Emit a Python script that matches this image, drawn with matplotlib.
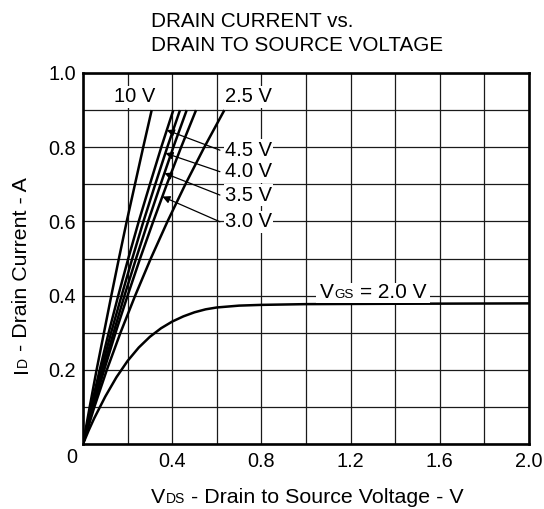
import matplotlib
matplotlib.use('Agg')
import matplotlib.pyplot as plt
import numpy as np
from matplotlib.patches import Rectangle
from matplotlib.transforms import IdentityTransform

plt.rcParams['font.family'] = ['Liberation Sans', 'DejaVu Sans']

# ---------------- data ----------------
# Linear-region curves: drain current points and V_DS for each V_GS
id_pts = [0.0, 0.1, 0.2, 0.3, 0.4, 0.5, 0.6, 0.7, 0.8, 0.9]
vds_10v = [0.0, 0.030, 0.061, 0.094, 0.127, 0.161, 0.196, 0.233, 0.270, 0.308]
vds_45v = [0.0, 0.036, 0.075, 0.115, 0.158, 0.203, 0.250, 0.300, 0.351, 0.405]
vds_40v = [0.0, 0.040, 0.082, 0.126, 0.173, 0.221, 0.271, 0.324, 0.378, 0.435]
vds_35v = [0.0, 0.044, 0.089, 0.137, 0.186, 0.238, 0.292, 0.348, 0.405, 0.465]
vds_30v = [0.0, 0.046, 0.095, 0.146, 0.200, 0.256, 0.315, 0.376, 0.440, 0.507]
vds_25v = [0.0, 0.051, 0.107, 0.168, 0.234, 0.304, 0.379, 0.459, 0.544, 0.634]

# V_GS = 2.0 V curve (saturating)
vds_20v = [0.0, 0.025, 0.05, 0.10, 0.15, 0.20, 0.25, 0.30, 0.35, 0.40, 0.45,
           0.50, 0.55, 0.60, 0.70, 0.80, 1.00, 1.40, 2.00]
id_20v = [0.0, 0.036, 0.069, 0.128, 0.180, 0.224, 0.260, 0.289, 0.312, 0.330, 0.344,
          0.355, 0.363, 0.368, 0.373, 0.375, 0.377, 0.378, 0.379]

# labels with arrows
arrow_labels = ['4.5 V', '4.0 V', '3.5 V', '3.0 V']
arrow_label_y = [0.792, 0.734, 0.671, 0.599]
arrow_tip_id = [0.846, 0.784, 0.730, 0.667]

x_grid = [0.0, 0.2, 0.4, 0.6, 0.8, 1.0, 1.2, 1.4, 1.6, 1.8, 2.0]
x_ticklabels = ['', '', '0.4', '', '0.8', '', '1.2', '', '1.6', '', '2.0']
y_grid = [0.0, 0.1, 0.2, 0.3, 0.4, 0.5, 0.6, 0.7, 0.8, 0.9, 1.0]
y_ticklabels = ['', '', '0.2', '', '0.4', '', '0.6', '', '0.8', '', '1.0']

title_lines = ['DRAIN CURRENT vs.', 'DRAIN TO SOURCE VOLTAGE']

# ---------------- figure ----------------
W, H = 544, 509
fig = plt.figure(figsize=(W / 100, H / 100), dpi=100)
L, R, T, B = 83, 529, 73, 444
ax = fig.add_axes([L / W, (H - B) / H, (R - L) / W, (B - T) / H])
renderer = fig.canvas.get_renderer()

FS = 14.3      # tick labels
FC = 14.5      # curve labels
FA = 15.4      # axis labels
SUB = 10

ax.set_xlim(0, 2.0)
ax.set_ylim(0, 1.0)
ax.set_xticks(x_grid, x_ticklabels)
ax.set_yticks(y_grid, y_ticklabels)
ax.tick_params(length=0, labelsize=FS, colors='black')
ax.tick_params(axis='x', pad=6)
ax.tick_params(axis='y', pad=5)
ax.grid(True, color='#1a1a1a', lw=0.9)
ax.set_axisbelow(True)
for s in ax.spines.values():
    s.set_linewidth(1.9)
    s.set_color('black')

lw = 1.8
for v in [vds_10v, vds_45v, vds_40v, vds_35v, vds_30v, vds_25v]:
    ax.plot(v, id_pts, color='black', lw=lw, zorder=3, solid_capstyle='butt')
ax.plot(vds_20v, id_20v, color='black', lw=lw, zorder=3)

# "0" corner label
ax.text(-0.025, -0.012, '0', fontsize=FS, ha='center', va='top',
        transform=ax.transAxes, clip_on=False)

wb = dict(facecolor='white', edgecolor='none', pad=1.0)
ax.text(0.233, 0.936, '10 V', fontsize=FC, ha='center', va='center', bbox=wb, zorder=4)
ax.text(0.744, 0.936, '2.5 V', fontsize=FC, ha='center', va='center', bbox=wb, zorder=4)

curves = [vds_45v, vds_40v, vds_35v, vds_30v]
for lab, ly, tip, cv in zip(arrow_labels, arrow_label_y, arrow_tip_id, curves):
    ax.text(0.637, ly, lab, fontsize=FC, ha='left', va='center', bbox=wb, zorder=4)
    tx = np.interp(tip, id_pts, cv)
    ax.annotate('', xy=(tx, tip), xytext=(0.614, ly),
                arrowprops=dict(arrowstyle='-|>', lw=0.9, color='black',
                                mutation_scale=11, shrinkA=0, shrinkB=0),
                zorder=4)


def twidth(s, size):
    t = fig.text(0, 0, s, fontsize=size)
    w = t.get_window_extent(renderer).width
    t.remove()
    return w


def place(x0, y0, pieces, rotation=0, host=None, zorder=5):
    """pieces: list of (text, size, gap_after_px); x0,y0 baseline start in display px"""
    host = host or fig
    objs = []
    pos = 0.0
    for s, size, gap in pieces:
        if rotation == 0:
            t = host.text(x0 + pos, y0, s, fontsize=size, ha='left', va='baseline',
                          transform=IdentityTransform(), zorder=zorder, clip_on=False)
        else:
            t = host.text(x0, y0 + pos, s, fontsize=size, ha='left', va='baseline',
                          rotation=90, rotation_mode='anchor',
                          transform=IdentityTransform(), zorder=zorder, clip_on=False)
        objs.append(t)
        pos += twidth(s, size) + gap
    return objs, pos


def space(size):
    return 0.278 * size * 100 / 72


# x label, centered
xl = [('V', FA, 0.5), ('DS', SUB, space(FA)), ('- Drain to Source Voltage - V', FA, 0)]
tot = sum(twidth(s, z) + g for s, z, g in xl)
place(307 - tot / 2, H - 503, xl)

# y label, rotated
yl = [('I', FA, 0.5), ('D', SUB, space(FA)), ('- Drain Current - A', FA, 0)]
tot = sum(twidth(s, z) + g for s, z, g in yl)
place(27, (H - 275) - tot / 2, yl, rotation=90)

# V_GS = 2.0 V label with white background
FV = 15.0
gx, gy = ax.transData.transform((1.063, 0.413))
vl = [('V', FV, 0.5), ('GS', 9.7, space(FV)), ('= 2.0 V', FV, 0)]
objs, tot = place(gx, gy - 7.5, vl, host=ax, zorder=4)
bbs = [o.get_window_extent(renderer) for o in objs]
x0 = min(b.x0 for b in bbs) - 4
x1 = max(b.x1 for b in bbs) + 4
y0 = min(b.y0 for b in bbs) - 0.5
y1 = max(b.y1 for b in bbs) + 0.5
ax.add_patch(Rectangle((x0, y0), x1 - x0, y1 - y0, transform=IdentityTransform(),
                       facecolor='white', edgecolor='none', zorder=3.5, clip_on=False))

# title
fig.text(151 / W, (H - 27) / H, title_lines[0], fontsize=14.9, ha='left', va='baseline')
fig.text(151 / W, (H - 51) / H, title_lines[1], fontsize=14.9, ha='left', va='baseline')

fig.savefig('out.png', dpi=100)
